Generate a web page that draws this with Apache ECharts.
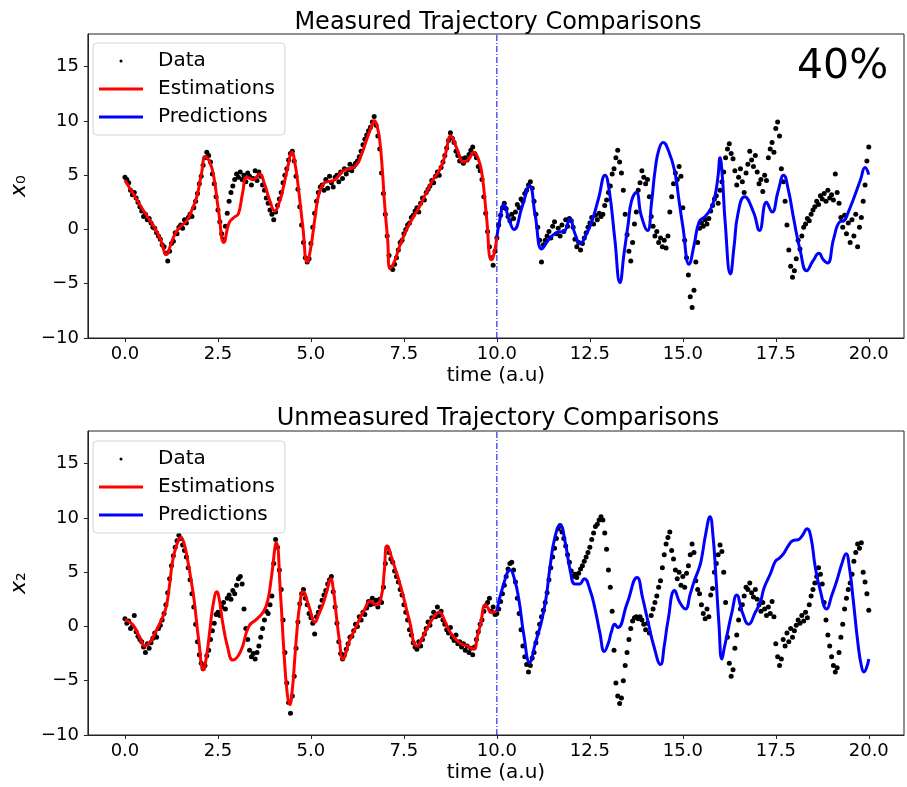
<!DOCTYPE html>
<html><head><meta charset="utf-8">
<script src="https://cdn.jsdelivr.net/npm/echarts@6/dist/echarts.min.js"></script>
<style>html,body{margin:0;padding:0;background:#fff}#c{width:907px;height:787px}</style>
</head><body><div id="c"></div>
<script>
const FONT = 'DejaVu Sans';
const xTicks = [0, 2.5, 5, 7.5, 10, 12.5, 15, 17.5, 20];
const yTicks = [-10, -5, 0, 5, 10, 15];
const yRange = [-10, 18];
const splitTime = 10;
const dotStep = 0.05;

// Measured (x0) noisy data, t = 0..20 step 0.05
const topDots = [
4.8,4.6,4.3,3.6,3.2,3.4,2.9,2.5,2.1,1.7,1.2,1.4,0.9,1.0,0.6,0.2,0.1,-0.3,-0.6,-0.9,
-1.4,-1.6,-2.2,-2.9,-2.0,-1.3,-1.1,-0.3,-0.4,0.2,0.4,0.1,0.9,0.6,1.1,1.4,1.2,2.0,2.6,3.3,
4.2,4.9,5.9,6.6,7.1,6.8,6.2,5.1,4.2,3.0,1.8,0.7,-0.4,-0.9,0.3,1.5,2.6,3.4,4.0,4.6,
5.1,4.8,5.3,4.6,5.0,4.4,5.2,4.9,4.1,4.7,5.4,4.5,5.3,4.9,4.1,3.6,2.9,2.4,1.8,1.4,
0.9,1.6,2.2,2.8,3.4,4.3,5.0,5.6,6.4,7.0,7.2,6.3,4.9,3.7,2.1,0.4,-1.2,-2.6,-3.0,-2.7,
-1.3,0.2,1.5,2.6,3.4,3.9,4.1,3.6,4.6,3.8,4.9,4.3,3.9,4.8,5.0,4.4,5.3,4.7,5.6,5.1,
5.5,6.0,5.4,5.8,6.1,6.3,6.7,7.2,7.8,8.3,8.7,9.1,9.4,9.9,10.4,9.6,8.6,7.4,5.2,3.3,
1.4,-0.6,-2.4,-3.5,-3.7,-3.2,-2.6,-1.9,-1.2,-1.0,-0.4,0.0,0.4,0.6,1.1,1.3,1.7,2.0,1.6,2.4,
2.9,2.7,3.4,3.7,4.0,4.5,4.3,4.9,5.3,5.0,5.7,6.2,6.8,7.5,8.2,8.9,8.4,8.0,7.2,6.8,
6.3,6.5,6.1,6.6,6.4,6.9,7.3,7.6,7.0,6.6,5.8,5.4,4.6,3.0,1.5,-0.2,-1.6,-2.6,-3.3,-2.0,
-0.8,0.4,1.3,2.0,2.4,1.9,1.2,0.8,1.4,1.0,1.6,2.3,2.0,2.8,2.6,3.3,3.6,4.1,4.4,3.8,
2.6,1.4,0.2,-1.0,-3.0,-1.4,-1.0,-0.6,-0.2,-0.8,0.3,0.7,-0.4,0.1,-0.6,0.4,-0.2,0.9,0.3,1.0,
0.8,0.2,-0.9,-1.6,-1.2,-1.9,-1.3,-0.8,-0.3,0.2,0.6,1.1,0.5,1.3,0.9,1.5,1.2,1.4,2.2,2.7,
3.4,4.0,5.1,5.6,6.6,7.3,6.2,5.2,3.6,1.4,-0.5,-2.0,-2.9,-1.2,0.5,1.6,3.6,4.3,5.4,4.8,
4.2,4.6,3.0,1.2,0.3,-0.6,-0.2,-1.2,-0.8,-1.6,-1.0,-1.7,-0.6,1.6,3.0,4.2,5.2,4.6,5.8,4.9,
2.0,-1.0,-2.6,-4.2,-6.2,-7.2,-5.6,-3.0,-1.2,0.1,0.6,0.3,0.9,0.5,1.0,1.7,2.2,2.8,3.1,2.4,
3.6,4.4,5.3,6.6,7.4,7.9,7.0,6.5,5.4,4.1,4.8,5.6,4.4,3.4,5.2,6.0,7.2,6.4,5.8,6.8,
5.3,4.2,4.6,3.5,5.0,4.5,6.6,7.4,8.0,7.1,9.3,9.9,8.6,5.6,4.4,2.6,0.4,-1.9,-3.4,-4.4,
-3.8,-2.7,-1.0,-1.8,-0.6,0.2,0.5,1.0,0.8,1.4,1.8,2.1,2.6,2.3,3.1,2.8,3.3,2.6,3.6,2.9,
3.2,2.7,5.1,3.4,2.4,1.1,0.2,1.3,-0.4,0.6,-1.2,0.9,-0.6,1.4,-1.6,0.2,1.1,2.6,4.1,6.3,
7.6
];

// Unmeasured (x2) noisy data, t = 0..20 step 0.05
const botDots = [
0.7,0.3,0.5,-0.2,0.0,1.0,-0.5,-0.9,-1.2,-1.4,-1.9,-2.4,-1.6,-2.0,-1.5,-1.1,-0.6,-1.0,-0.2,0.1,
0.6,1.2,2.0,3.1,4.4,5.6,6.5,7.3,7.9,8.4,8.1,7.5,7.0,6.4,5.4,4.3,3.0,1.8,0.2,-1.4,
-2.6,-3.4,-3.9,-3.6,-2.7,-2.2,-1.2,-0.4,0.3,1.1,1.3,1.0,1.8,2.2,1.6,2.6,2.9,2.5,3.3,3.0,
3.8,4.4,4.6,3.9,1.6,-0.2,-1.2,-2.2,-2.8,-2.5,-3.0,-2.4,-1.8,-1.0,-0.2,0.6,1.4,1.2,2.0,2.8,
5.8,8.0,7.3,5.2,3.4,0.6,-2.4,-5.2,-7.0,-8.0,-6.4,-4.6,-2.0,0.4,2.1,3.0,3.4,2.6,2.0,1.2,
0.8,0.3,-0.7,0.9,1.3,1.8,2.4,2.9,3.3,3.9,4.3,4.6,3.2,1.8,0.3,-1.4,-2.5,-3.0,-2.6,-2.1,
-1.6,-1.0,-0.9,-0.4,0.2,0.0,0.9,0.6,1.3,1.1,1.7,2.3,2.0,2.6,2.1,2.4,1.8,2.5,2.2,3.6,
5.8,7.3,6.8,6.2,5.9,5.1,4.6,4.1,3.4,2.9,2.0,1.3,0.6,-0.3,-0.8,-1.5,-1.9,-2.1,-1.4,-1.8,
-1.2,-0.7,-0.2,0.4,0.1,0.8,1.3,0.9,1.8,1.0,1.4,0.6,0.2,-0.3,-0.6,-0.1,-1.0,-1.3,-0.8,-1.6,
-1.4,-1.9,-1.6,-2.2,-1.8,-2.4,-2.0,-2.6,-1.9,-1.2,-0.5,0.2,0.6,1.4,1.9,2.2,2.6,1.4,1.8,1.1,
1.2,1.6,2.3,3.0,3.8,4.6,5.3,5.8,5.9,5.2,4.1,2.6,1.2,-0.3,-1.8,-2.8,-3.5,-4.2,-3.6,-2.9,
-2.4,-1.5,-0.6,0.2,0.9,1.5,2.2,3.1,4.3,5.4,6.4,7.2,8.1,9.0,9.3,8.7,8.1,7.4,6.6,5.9,
5.1,4.6,4.8,4.5,4.9,5.3,5.6,6.0,6.4,6.8,7.3,8.0,8.6,9.2,9.4,9.8,10.1,9.8,8.6,7.1,
5.2,3.6,1.4,-2.2,-5.2,-6.4,-7.1,-6.6,-5.0,-3.6,-2.4,-1.2,-0.2,0.5,0.8,0.9,0.7,0.9,0.6,0.2,
-0.3,0.3,-0.6,1.0,1.6,2.2,2.8,3.6,4.2,5.4,6.6,7.6,8.2,8.7,7.0,6.2,5.2,4.4,5.0,3.8,
4.6,3.6,4.9,5.6,6.6,7.6,6.8,4.2,3.4,3.0,2.0,1.2,0.7,1.6,0.9,2.9,3.5,5.0,5.8,6.6,
7.5,6.9,5.0,2.2,-1.0,-3.4,-4.6,-4.0,-2.0,-0.8,0.6,1.6,2.0,2.8,3.6,3.4,4.0,3.1,2.7,3.4,
2.5,2.0,1.4,2.2,1.6,1.0,1.8,1.2,2.3,0.9,-1.6,-2.8,-3.6,-3.0,-1.2,-1.8,-0.6,-1.4,-0.2,-1.0,
-0.4,0.1,0.6,0.3,1.0,0.5,1.3,0.8,2.0,2.8,3.4,4.0,4.6,5.4,4.8,3.9,2.2,0.6,-0.8,-1.8,
-2.8,-3.6,-4.2,-3.8,-2.4,-1.0,0.2,1.6,2.6,3.4,4.0,4.8,6.0,6.8,7.6,7.2,7.7,5.0,4.1,3.0,
1.5
];

// Curves: [time, value] points
const topEst = [[0,4.5],[0.2,3.4],[0.44,2.05],[0.62,1.1],[0.79,0.2],[0.95,-0.9],[1.12,-2.3],[1.22,-1.5],[1.35,-0.4],[1.5,0.3],[1.66,0.8],[1.8,1.8],[1.93,3.0],[2.06,5.2],[2.16,6.7],[2.28,6.2],[2.39,4.8],[2.52,1.6],[2.66,-1.2],[2.8,0.6],[2.93,1.1],[3.05,1.45],[3.16,3.3],[3.28,4.8],[3.45,4.6],[3.62,5.1],[3.75,4.2],[3.9,2.6],[4.03,1.7],[4.15,2.5],[4.26,3.9],[4.38,5.8],[4.49,7.1],[4.57,6.1],[4.66,3.9],[4.78,0.3],[4.9,-3.0],[5.0,-1.6],[5.11,1.1],[5.21,3.2],[5.33,4.2],[5.46,4.4],[5.6,4.5],[5.74,4.9],[5.87,5.4],[6.05,5.6],[6.22,5.9],[6.36,6.9],[6.49,8.2],[6.6,9.2],[6.71,10.0],[6.78,9.5],[6.85,8.2],[6.92,5.5],[6.98,2.4],[7.06,-0.8],[7.13,-3.6],[7.24,-3.0],[7.38,-1.6],[7.56,-0.1],[7.73,1.0],[7.91,2.05],[8.09,3.3],[8.27,4.5],[8.48,5.6],[8.62,7.0],[8.76,8.6],[8.93,7.4],[9.11,6.2],[9.25,6.5],[9.38,7.1],[9.5,6.5],[9.6,5.1],[9.72,1.2],[9.85,-2.8],[9.92,-2.3],[10.0,-0.7]];
const topPred = [[10.0,-0.7],[10.08,0.9],[10.19,2.3],[10.32,1.0],[10.46,0.0],[10.68,2.1],[10.88,4.0],[11.03,1.3],[11.21,-1.8],[11.38,-1.0],[11.53,-0.45],[11.66,-0.25],[11.8,-0.2],[11.96,0.95],[12.1,-0.4],[12.24,-1.3],[12.4,-0.5],[12.55,0.7],[12.73,2.8],[12.91,5.0],[13.02,3.6],[13.17,-0.85],[13.31,-4.9],[13.42,-2.2],[13.53,0.5],[13.62,2.6],[13.75,3.4],[13.88,1.3],[14.05,-0.1],[14.16,2.5],[14.26,5.6],[14.36,7.4],[14.47,8.0],[14.62,7.2],[14.78,5.4],[14.9,2.6],[15.0,0.3],[15.17,-3.2],[15.3,-1.5],[15.44,0.7],[15.6,1.2],[15.75,1.9],[15.86,3.0],[15.95,5.0],[16.0,6.6],[16.06,5.0],[16.14,0.6],[16.28,-4.1],[16.38,-1.5],[16.48,1.4],[16.66,3.0],[16.9,1.6],[17.06,-0.1],[17.25,2.5],[17.4,1.6],[17.56,3.5],[17.71,5.0],[17.84,3.6],[17.98,1.0],[18.16,-2.0],[18.33,-3.8],[18.5,-2.9],[18.66,-2.2],[18.78,-2.8],[18.89,-3.1],[19.06,-0.8],[19.22,0.7],[19.33,0.8],[19.45,1.6],[19.6,2.9],[19.78,4.6],[19.9,5.7],[20.0,5.05]];
const botEst = [[0,0.6],[0.2,0.2],[0.38,-0.9],[0.54,-1.8],[0.7,-1.3],[0.84,-0.4],[0.98,0.6],[1.1,1.7],[1.19,3.6],[1.28,6.0],[1.39,7.5],[1.5,8.2],[1.6,7.5],[1.69,6.0],[1.78,4.2],[1.86,2.4],[1.98,-1.2],[2.11,-4.0],[2.19,-2.8],[2.27,-0.7],[2.37,2.0],[2.47,3.2],[2.55,2.2],[2.62,0.5],[2.76,-1.9],[2.9,-3.1],[3.11,-2.3],[3.33,0.0],[3.55,0.7],[3.73,1.4],[3.84,2.4],[3.94,4.6],[4.07,7.7],[4.18,3.1],[4.27,-2.1],[4.36,-6.1],[4.43,-7.2],[4.5,-5.8],[4.56,-3.2],[4.63,-0.2],[4.7,2.0],[4.79,3.2],[4.95,1.8],[5.11,0.4],[5.22,1.2],[5.33,2.1],[5.44,3.4],[5.53,4.4],[5.61,3.2],[5.68,1.1],[5.77,-1.4],[5.86,-3.0],[6.04,-1.3],[6.18,-0.3],[6.31,0.7],[6.45,1.6],[6.58,2.3],[6.76,2.0],[6.9,2.9],[6.97,5.0],[7.05,7.4],[7.2,6.0],[7.42,3.6],[7.65,0.5],[7.85,-1.8],[8.09,-0.4],[8.27,0.7],[8.45,1.3],[8.6,0.5],[8.72,-0.4],[8.99,-1.5],[9.2,-1.8],[9.38,-2.1],[9.47,-1.0],[9.56,0.2],[9.69,2.0],[9.76,1.7],[9.83,1.3],[9.9,1.3],[10.0,1.45]];
const botPred = [[10.0,1.45],[10.19,4.0],[10.36,5.2],[10.47,4.4],[10.59,2.5],[10.73,-0.9],[10.88,-3.3],[11.03,-1.6],[11.21,0.6],[11.33,2.8],[11.43,5.5],[11.56,8.2],[11.7,9.35],[11.84,7.7],[11.97,5.2],[12.1,3.9],[12.22,3.9],[12.35,4.4],[12.5,3.4],[12.64,1.6],[12.77,-0.6],[12.89,-2.3],[13.0,-1.5],[13.08,-0.5],[13.17,0.2],[13.25,-0.1],[13.5,2.1],[13.77,4.5],[13.92,2.6],[14.06,0.5],[14.22,-1.8],[14.4,-3.5],[14.5,-1.8],[14.6,0.5],[14.78,3.3],[14.92,2.2],[15.07,1.6],[15.2,3.0],[15.31,4.2],[15.42,5.2],[15.49,6.0],[15.62,8.6],[15.73,10.1],[15.81,8.4],[15.89,4.6],[15.97,0.3],[16.05,-3.0],[16.12,-1.9],[16.2,-0.6],[16.32,1.3],[16.45,2.9],[16.6,1.3],[16.77,0.2],[16.95,1.3],[17.09,2.3],[17.18,3.5],[17.36,4.9],[17.49,6.0],[17.6,6.3],[17.71,6.7],[17.83,7.4],[17.96,7.9],[18.11,8.0],[18.22,8.4],[18.34,9.0],[18.44,8.3],[18.56,5.5],[18.69,3.4],[18.87,1.6],[19.0,2.8],[19.14,4.2],[19.27,5.7],[19.39,6.7],[19.48,5.4],[19.58,2.5],[19.71,-1.6],[19.8,-3.6],[19.87,-4.2],[19.95,-3.7],[20.0,-3.0]];

const toPairs = arr => arr.map((v, i) => [+(i * dotStep).toFixed(2), v]);
const fmtY = v => (v < 0 ? '\u2212' + Math.abs(v) : String(v));

function xAxisCfg(gi) {
  return {
    type: 'value', gridIndex: gi, min: -0.9975, max: 20.9475,
    name: 'time (a.u)', nameLocation: 'middle', nameGap: 28,
    nameTextStyle: { fontSize: 20, color: '#000', fontFamily: FONT },
    axisLine: { show: true, onZero: false, lineStyle: { color: '#222', width: 1 } },
    axisTick: { show: true, inside: false, length: 4, customValues: xTicks, lineStyle: { color: '#222' } },
    axisLabel: { customValues: xTicks, formatter: v => v.toFixed(1), fontSize: 18, color: '#000', margin: 7, fontFamily: FONT },
    splitLine: { show: false }
  };
}
function yAxisCfg(gi, sub) {
  return {
    type: 'value', gridIndex: gi, min: yRange[0], max: yRange[1],
    name: '{i|x}{s|' + sub + '}', nameLocation: 'middle', nameGap: 50, nameRotate: 90,
    nameTextStyle: { color: '#000', fontFamily: FONT,
      rich: { i: { fontSize: 22, fontStyle: 'italic', fontFamily: FONT, color: '#000' },
              s: { fontSize: 22, fontFamily: FONT, color: '#000' } } },
    axisLine: { show: true, onZero: false, lineStyle: { color: '#222', width: 1 } },
    axisTick: { show: true, inside: false, length: 4, customValues: yTicks, lineStyle: { color: '#222' } },
    axisLabel: { customValues: yTicks, formatter: fmtY, fontSize: 18, color: '#000', margin: 9, fontFamily: FONT },
    splitLine: { show: false }
  };
}
function legendCfg(top) {
  return {
    top: top, left: 93, orient: 'vertical', selectedMode: false,
    data: [{ name: 'Data', icon: 'circle' }, { name: 'Estimations', icon: 'rect' }, { name: 'Predictions', icon: 'rect' }],
    itemWidth: 44, itemHeight: 3, itemGap: 8, padding: [8, 10, 8, 6],
    borderColor: '#d3d3d3', borderWidth: 1, borderRadius: 4, backgroundColor: 'rgba(255,255,255,0.85)',
    textStyle: { fontSize: 20, color: '#000', fontFamily: FONT, lineHeight: 20, padding: [0, 0, 0, 10] }
  };
}
function seriesFor(gi, dots, est, pred) {
  return [
    { name: 'split', type: 'line', xAxisIndex: gi, yAxisIndex: gi,
      data: yRange.map(y => [splitTime, y]), color: '#0000ff', showSymbol: false, silent: true, z: 1,
      lineStyle: { color: '#0000ff', width: 1, type: [6, 2, 1, 2] } },
    { name: 'Data', type: 'scatter', xAxisIndex: gi, yAxisIndex: gi, data: toPairs(dots),
      symbolSize: 5, itemStyle: { color: '#000', opacity: 1 }, z: 2, silent: true },
    { name: 'Estimations', type: 'line', xAxisIndex: gi, yAxisIndex: gi, data: est, color: '#ff0000',
      smooth: 0.5, showSymbol: false, lineStyle: { width: 3, color: '#ff0000' }, z: 3, silent: true },
    { name: 'Predictions', type: 'line', xAxisIndex: gi, yAxisIndex: gi, data: pred, color: '#0000ff',
      smooth: 0.5, showSymbol: false, lineStyle: { width: 3, color: '#0000ff' }, z: 3, silent: true }
  ];
}

const chart = echarts.init(document.getElementById('c'), null, { renderer: 'canvas' });
chart.setOption({
  animation: false,
  backgroundColor: '#fff',
  title: [
    { text: 'Measured Trajectory Comparisons', left: 493, top: 6, textAlign: 'center',
      textStyle: { fontSize: 24, fontWeight: 'normal', color: '#000', fontFamily: FONT } },
    { text: 'Unmeasured Trajectory Comparisons', left: 493, top: 402, textAlign: 'center',
      textStyle: { fontSize: 24, fontWeight: 'normal', color: '#000', fontFamily: FONT } }
  ],
  grid: [
    { left: 82, top: 34, width: 822, height: 304, show: true, borderColor: '#222', borderWidth: 1, backgroundColor: 'transparent' },
    { left: 82, top: 431, width: 822, height: 304, show: true, borderColor: '#222', borderWidth: 1, backgroundColor: 'transparent' }
  ],
  xAxis: [xAxisCfg(0), xAxisCfg(1)],
  yAxis: [yAxisCfg(0, '\u2080'), yAxisCfg(1, '\u2082')],
  legend: [legendCfg(43), legendCfg(441)],
  graphic: [
    { type: 'text', left: 797, top: 47, z: 10,
      style: { text: '40%', font: '41px "DejaVu Sans"', fill: '#000' } }
  ],
  series: [].concat(seriesFor(0, topDots, topEst, topPred), seriesFor(1, botDots, botEst, botPred))
});
</script>
</body></html>
